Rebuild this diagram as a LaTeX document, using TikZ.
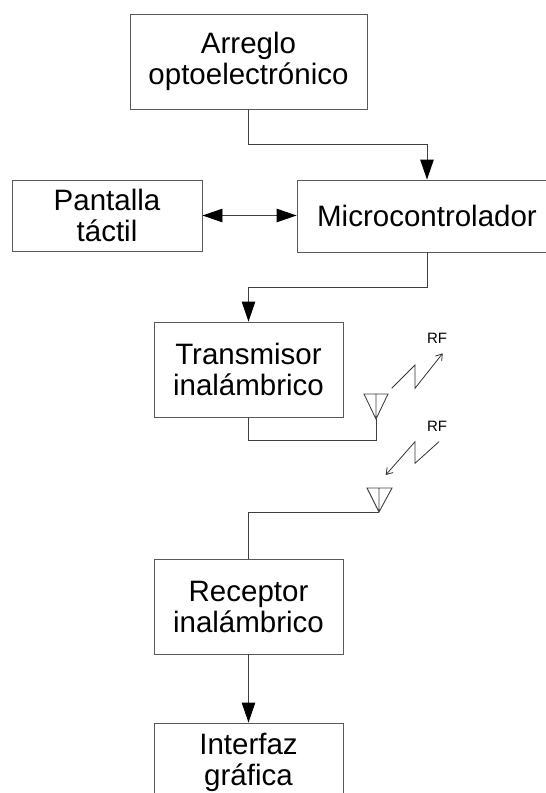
\documentclass[tikz,border=0pt]{standalone}
\usepackage{fontspec}
\setmainfont{Liberation Sans}
\usetikzlibrary{positioning,arrows.meta}

\begin{document}
\begin{tikzpicture}[x=1pt, y=-1pt,
                      block/.style = {shape=rectangle, draw=black!65, line width=0.9pt,
                        align=center, inner sep=0pt,
                        font=\fontsize{29.5}{31}\selectfont},
                      wire/.style = {draw=black!75, line width=0.9pt},
                      flow/.style = {wire, -{Triangle[length=20pt,width=13.5pt,black]}},
                      both/.style = {wire, {Triangle[length=20pt,width=13.5pt,black]}-{Triangle[length=20pt,width=13.5pt,black]}},
                      bolt/.style = {draw=black!80, line width=0.8pt, -{Straight Barb[length=6pt,width=8pt]}},
                      rflabel/.style = {inner sep=0pt, font=\fontsize{15}{15}\selectfont}]
  \useasboundingbox (0,0) rectangle (546,793);
  \clip (0,0) rectangle (546,793);
  % blocks
  \node[block, minimum width=237pt, minimum height=95pt] (arreglo) at (248.5,61.5) {Arreglo\\optoelectrónico};
  \node[block, minimum width=190pt, minimum height=71pt] (pantalla) at (107,215.5) {Pantalla\\táctil};
  \node[block, minimum width=260pt, minimum height=72pt] (micro) at (427,216) {Microcontrolador};
  \node[block, minimum width=189pt, minimum height=95pt] (trans) at (248.5,369.5) {Transmisor\\inalámbrico};
  \node[block, minimum width=189pt, minimum height=95pt] (recep) at (248.5,606.5) {Receptor\\inalámbrico};
  \node[block, minimum width=189pt, minimum height=79pt] (interfaz) at (248.5,762.5) {Interfaz\\gráfica};
  % antennas
  \coordinate (ant1) at (376,419);
  \coordinate (ant2) at (379,512);
  \draw[wire] (364,394) -- (388,394) -- (ant1) -- cycle (376,394) -- (ant1);
  \draw[wire] (367,488) -- (392,488) -- (ant2) -- cycle (379,488) -- (ant2);
  % radio links
  \draw[bolt] (391.7,388.3) -- (415,365) -- (415,388.3) -- (442.7,353.3);
  \draw[bolt] (439,441.7) -- (415,463.3) -- (415,441.7) -- (385.7,475);
  \node[rflabel] (rf1) at (437,338) {RF};
  \node[rflabel] (rf2) at (437,426) {RF};
  % connections
  \draw[flow] (arreglo.south) -- ++(0,35) -| (micro.north);
  \draw[both] (pantalla.east) -- (pantalla.east -| micro.west);
  \draw[flow] (micro.south) -- ++(0,35) -| (trans.north);
  \draw[wire] (trans.south) -- ++(0,23) -| (ant1);
  \draw[wire] (recep.north) |- (ant2);
  \draw[flow] (recep.south) -- (interfaz.north);
\end{tikzpicture}
\end{document}
